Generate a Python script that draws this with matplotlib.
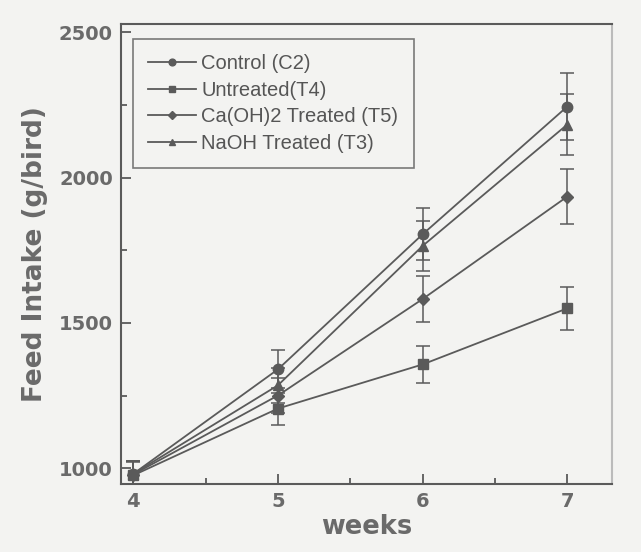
import numpy as np
import matplotlib.pyplot as plt
from matplotlib.ticker import MultipleLocator
from matplotlib.lines import Line2D

# feed intake data
weeks = [4, 5, 6, 7]
control = [980, 1340, 1805, 2245]
control_err = [45, 65, 90, 115]
untreated = [975, 1205, 1357, 1550]
untreated_err = [45, 55, 65, 75]
caoh = [978, 1250, 1582, 1935]
caoh_err = [45, 60, 80, 95]
naoh = [980, 1285, 1765, 2183]
naoh_err = [45, 60, 85, 105]
labels = ['Control (C2)', 'Untreated(T4)', 'Ca(OH)2 Treated (T5)', 'NaOH Treated (T3)']

plt.rcParams['font.family'] = ['DejaVu Sans']
grey = '#5a5a5a'
txt = '#6a6a6a'
bg = '#f3f3f1'

fig = plt.figure(figsize=(6.41, 5.52), dpi=100, facecolor=bg)
ax = fig.add_axes([0.189, 0.123, 0.766, 0.834])
ax.set_facecolor(bg)

series = [(control, control_err, 'o'), (untreated, untreated_err, 's'),
          (caoh, caoh_err, 'D'), (naoh, naoh_err, '^')]
handles = []
for (y, e, m), lab in zip(series, labels):
    ms = 6.5 if m == 'D' else 7.5
    ax.errorbar(weeks, y, yerr=e, color=grey, marker=m, markersize=ms, lw=1.3,
                capsize=5, elinewidth=1.1, capthick=1.1)
    handles.append(Line2D([], [], color=grey, marker=m, markersize=ms * 0.65, lw=1.3, label=lab))

ax.set_xlim(3.917, 7.31)
ax.set_ylim(945, 2530)
ax.xaxis.set_major_locator(MultipleLocator(1))
ax.xaxis.set_minor_locator(MultipleLocator(0.5))
ax.yaxis.set_major_locator(MultipleLocator(500))
ax.yaxis.set_minor_locator(MultipleLocator(250))
ax.tick_params(which='both', direction='in', color=grey, width=1.3)
ax.tick_params(which='major', length=7, labelsize=14, labelcolor=txt, pad=6)
ax.tick_params(which='minor', length=4)
for t in ax.get_xticklabels() + ax.get_yticklabels():
    t.set_fontweight('bold')
for s in ax.spines.values():
    s.set_color(grey)
    s.set_linewidth(1.5)
ax.spines['right'].set_color('#bbbbbb')

ax.set_xlabel('weeks', fontsize=18.5, fontweight='bold', color=txt, labelpad=2)
ax.set_ylabel('Feed Intake (g/bird)', fontsize=19, fontweight='bold', color=txt, labelpad=8)

leg = ax.legend(handles=handles, loc='upper left', bbox_to_anchor=(0.024, 0.967),
                borderaxespad=0, prop={'family': 'Liberation Sans', 'size': 14.5},
                frameon=True, fancybox=False, edgecolor=grey, facecolor=bg,
                handlelength=2.4, handletextpad=0.25, borderpad=0.75,
                labelspacing=0.38, numpoints=1)
leg.get_frame().set_linewidth(1.2)
for t in leg.get_texts():
    t.set_color('#555555')

plt.savefig('out.png', dpi=100, facecolor=fig.get_facecolor())
